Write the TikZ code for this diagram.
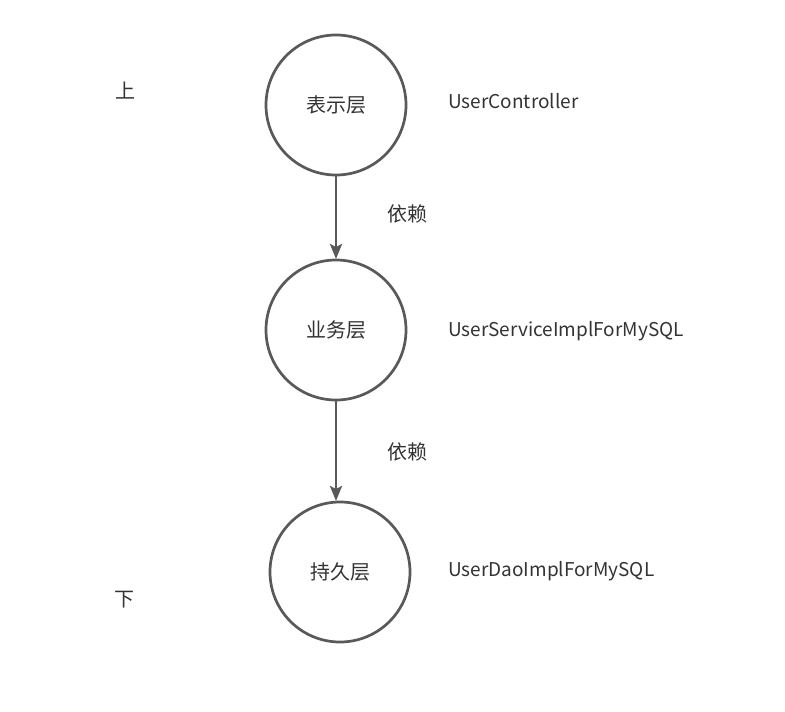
\documentclass[tikz,border=0pt]{standalone}
\usepackage{fontspec}
\setmainfont{Noto Sans CJK SC}
\usetikzlibrary{arrows.meta}
\definecolor{linegray}{HTML}{595959}
\definecolor{textgray}{HTML}{333333}
\tikzset{
  layer/.style={circle, draw=linegray, line width=2.7pt, minimum size=140pt, inner sep=0pt, text=textgray, font=\fontsize{20}{24}\selectfont},
  depends/.style={draw=linegray, line width=2.7pt, -{Stealth[length=15pt, width=12pt, inset=3pt]}},
  tag/.style={text=textgray, font=\fontsize{19}{23}\selectfont, inner sep=0pt},
  cjktag/.style={tag, font=\fontsize{20}{24}\selectfont},
}
\begin{document}
\begin{tikzpicture}[x=1pt, y=-1pt]
\useasboundingbox (0,0) rectangle (785,712);
\node[layer] (show) at (336,105) {表示层};
\node[layer] (service) at (336,330) {业务层};
\node[layer] (dao) at (340,572) {持久层};
\coordinate (serviceTop) at (336,259);
\coordinate (daoTop) at (336,501);
\draw[depends] (show.south) -- (serviceTop);
\draw[depends] (service.south) -- (daoTop);

\node[cjktag] (dep1) at (407,214) {依赖};
\node[cjktag] (dep2) at (407,452) {依赖};
\node[cjktag] (up) at (125,91) {上};
\node[cjktag] (down) at (124,600) {下};
\node[tag, anchor=west] (ctrl) at (448,101) {UserController};
\node[tag, anchor=west] (svc) at (448,331) {UserServiceImplForMySQL};
\node[tag, anchor=west] (daoimpl) at (448,571) {UserDaoImplForMySQL};
\end{tikzpicture}
\end{document}
